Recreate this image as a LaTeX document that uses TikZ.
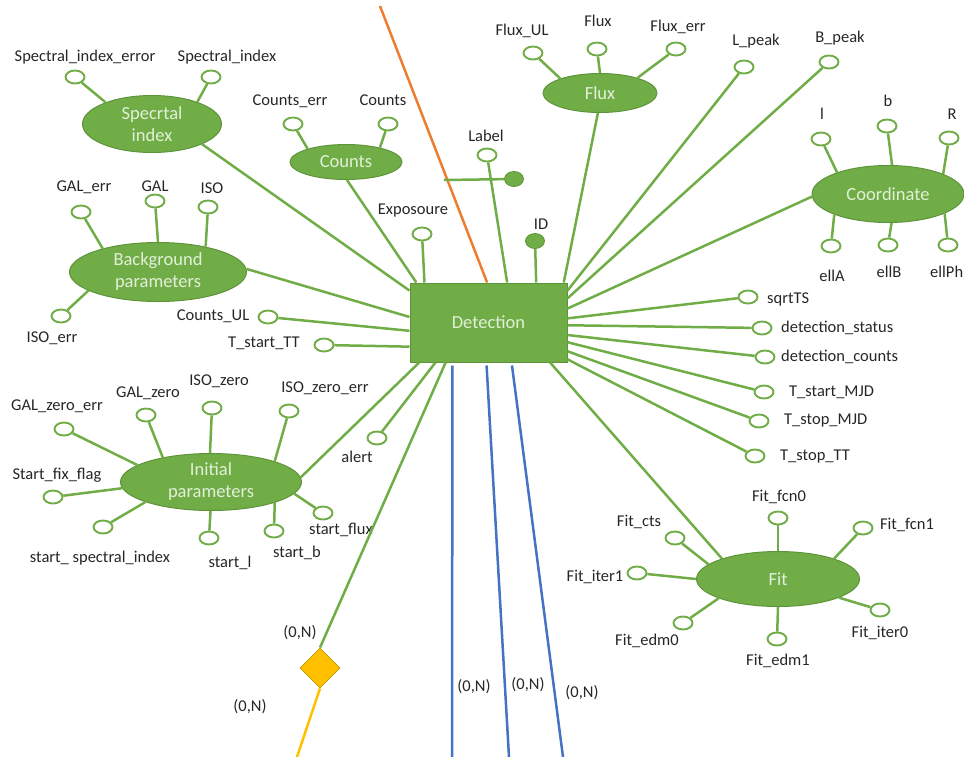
\documentclass[tikz,border=0pt]{standalone}
\usepackage{fontspec}
\setmainfont{Carlito}
\usetikzlibrary{shapes.geometric}
\definecolor{grn}{HTML}{70AD47}
\definecolor{grnd}{HTML}{5E9439}
\definecolor{txtg}{HTML}{E2F0D9}
\definecolor{orng}{HTML}{ED7D31}
\definecolor{blu}{HTML}{4472C4}
\definecolor{gold}{HTML}{FFC000}
\definecolor{goldd}{HTML}{C89600}
\newcommand\lblfont{\fontsize{16.5}{19}\selectfont}
\newcommand\entfont{\fontsize{18.5}{22}\selectfont}
\newcommand\attnode[5][]{\node[attr] (a-#2) at (#3) {};\node[lab,#1] (t-#2) at (#5) {#4};}
\tikzset{
  attr/.style={ellipse, draw=grn, line width=1.9pt, fill=white, minimum width=19pt, minimum height=13pt, inner sep=0pt},
  fdot/.style={ellipse, draw=grnd, line width=0.8pt, fill=grn, minimum width=19pt, minimum height=15pt, inner sep=0pt},
  ent/.style={ellipse, fill=grn, draw=grnd, line width=1pt, text=txtg, font=\entfont, align=center, inner sep=0pt},
  lab/.style={font=\lblfont, inner sep=0pt, text=black!85},
  conn/.style={draw=grn, line width=2.5pt},
}
\begin{document}
\begin{tikzpicture}[x=1pt,y=-1pt]
\useasboundingbox (0,0) rectangle (964,756);
% entities
\node[rectangle, fill=grn, draw=grnd, line width=1pt, text=txtg, font=\entfont, minimum width=157pt, minimum height=79pt, inner sep=0pt] (det) at (488.5,322.5) {Detection};
\node[ent, minimum width=139pt, minimum height=57pt] (spi) at (152,124) {Specrtal\\index};
\node[ent, minimum width=112pt, minimum height=35pt] (cnt) at (346,162) {Counts};
\node[ent, minimum width=114pt, minimum height=39pt] (flx) at (600,93) {Flux};
\node[ent, minimum width=152pt, minimum height=57pt] (crd) at (888,194) {Coordinate};
\node[ent, minimum width=177pt, minimum height=59pt] (bgp) at (158,272) {Background\\parameters};
\node[ent, minimum width=181pt, minimum height=57pt] (inp) at (211,482) {Initial\\parameters};
\node[ent, minimum width=163pt, minimum height=55pt] (fit) at (778,579) {Fit};
\node[diamond, fill=gold, draw=goldd, line width=0.8pt, minimum width=40pt, minimum height=40pt, inner sep=0pt] (dia) at (320,668) {};
% attributes
\attnode{sie}{75,77}{Spectral\_index\_error}{85,57}
\attnode{si}{211,77}{Spectral\_index}{227,57}
\attnode{ce}{293,124}{Counts\_err}{290,101}
\attnode{cn}{388,124}{Counts}{383,100}
\attnode{lb}{487,155}{Label}{486,136}
\attnode{ex}{422,234}{Exposoure}{413,211}
\node[fdot] (a-id) at (535,241) {};
\node[lab] (t-id) at (541,224) {ID};
\node[fdot] (ldot) at (514,179) {};
\attnode{ful}{533,53}{Flux\_UL}{522,31}
\attnode{fl}{597,49}{Flux}{598,21}
\attnode{fe}{676,49}{Flux\_err}{678,27}
\attnode{lp}{744,67}{L\_peak}{756,41}
\attnode{bp}{829,62}{B\_peak}{840,38}
\attnode{cl}{821,139}{l}{822,114}
\attnode{cb}{887,126}{b}{888,101}
\attnode{cr}{949,138}{R}{952,114}
\attnode{ea}{831,246}{ellA}{832,276}
\attnode{eb}{888,245}{ellB}{889,272}
\attnode[anchor=west]{ep}{948,245}{ellPh}{930,272}
\attnode[anchor=west]{sq}{748,297}{sqrtTS}{767,299}
\attnode[anchor=west]{ds}{762,328}{detection\_status}{781,328}
\attnode[anchor=west]{dc}{765,357}{detection\_counts}{781,357}
\attnode[anchor=west]{tsm}{764,392}{T\_start\_MJD}{789,392}
\attnode[anchor=west]{tpm}{759,421}{T\_stop\_MJD}{784,421}
\attnode[anchor=west]{tpt}{755,456}{T\_stop\_TT}{780,457}
\attnode{cul}{268,317}{Counts\_UL}{213,316}
\attnode{tst}{324,345}{T\_start\_TT}{264,343}
\attnode{ise}{61,316}{ISO\_err}{52,338}
\attnode{ge}{81,212}{GAL\_err}{84,187}
\attnode{g}{155,201}{GAL}{155,186}
\attnode{iso}{208,207}{ISO}{212,188}
\attnode{gze}{64,429}{GAL\_zero\_err}{57,406}
\attnode{gz}{146,415}{GAL\_zero}{148,393}
\attnode{iz}{212,408}{ISO\_zero}{219,381}
\attnode{ize}{289,411}{ISO\_zero\_err}{325,388}
\attnode{sff}{53,497}{Start\_fix\_flag}{57,475}
\attnode{ssi}{103,527}{start\_ spectral\_index}{100,558}
\attnode{sl}{209,538}{start\_l}{230,563}
\attnode{sb}{274,531}{start\_b}{297,553}
\attnode{sf}{323,513}{start\_flux}{341,530}
\attnode{al}{377,438}{alert}{357,457}
\attnode{ff0}{778,518}{Fit\_fcn0}{779,497}
\attnode{ff1}{863,528}{Fit\_fcn1}{907,525}
\attnode{fc}{675,538}{Fit\_cts}{639,522}
\attnode{fi1}{637,573}{Fit\_iter1}{595,577}
\attnode{fe0}{683,623}{Fit\_edm0}{647,641}
\attnode{fe1}{777,639}{Fit\_edm1}{778,661}
\attnode{fi0}{880,610}{Fit\_iter0}{880,633}
% cardinality labels
\node[lab] (n1) at (300,633) {(0,N)};
\node[lab] (n2) at (250,707) {(0,N)};
\node[lab] (n3) at (474,687) {(0,N)};
\node[lab] (n4) at (528,685) {(0,N)};
\node[lab] (n5) at (582,693) {(0,N)};
% free ends
\coordinate (oTop) at (380,6);
\coordinate (hl) at (444,180);
\coordinate (yEnd) at (297,757);
\coordinate (b1) at (452,757);
\coordinate (b2) at (509,757);
\coordinate (b3) at (563,757);
% connectors
\draw[orng, line width=2.5pt] (oTop) -- (det.92.2);
\draw[conn] (hl) -- (ldot);
\draw[conn] (a-sie) -- (spi.155);
\draw[conn] (a-si) -- (spi.26);
\draw[conn] (a-ce) -- (cnt.161);
\draw[conn] (a-cn) -- (cnt.23);
\draw[conn] (a-lb) -- (det.65);
\draw[conn] (a-ex) -- (det.148);
\draw[conn] (a-id) -- (det.40.3);
\draw[conn] (a-ful) -- (flx.160);
\draw[conn] (a-fl) -- (flx.90);
\draw[conn] (a-fe) -- (flx.22);
\draw[conn] (a-lp) -- (det.22.5);
\draw[conn] (a-bp) -- (det.17.3);
\draw[conn] (a-cl) -- (crd.157);
\draw[conn] (a-cb) -- (crd.82);
\draw[conn] (a-cr) -- (crd.20);
\draw[conn] (a-ea) -- (crd.-159);
\draw[conn] (a-eb) -- (crd.-83);
\draw[conn] (a-ep) -- (crd.-19);
\draw[conn] (a-sq) -- (det.3.3);
\draw[conn] (a-ds) -- (det.-2.5);
\draw[conn] (a-dc) -- (det.-9);
\draw[conn] (a-tsm) -- (det.-14.6);
\draw[conn] (a-tpm) -- (det.-20.6);
\draw[conn] (a-tpt) -- (det.-25.5);
\draw[conn] (a-cul) -- (det.186.2);
\draw[conn] (a-tst) -- (det.197.3);
\draw[conn] (a-ise) -- (bgp.-165);
\draw[conn] (a-ge) -- (bgp.157);
\draw[conn] (a-g) -- (bgp.90);
\draw[conn] (a-iso) -- (bgp.28);
\draw[conn] (a-gze) -- (inp.167);
\draw[conn] (a-gz) -- (inp.153);
\draw[conn] (a-iz) -- (inp.92);
\draw[conn] (a-ize) -- (inp.18);
\draw[conn] (a-sff) -- (inp.184);
\draw[conn] (a-ssi) -- (inp.-163.5);
\draw[conn] (a-sl) -- (inp.-91);
\draw[conn] (a-sb) -- (inp.-18);
\draw[conn] (a-sf) -- (inp.-8);
\draw[conn] (a-al) -- (det.-143.6);
\draw[conn] (a-ff0) -- (fit.90);
\draw[conn] (a-ff1) -- (fit.20);
\draw[conn] (a-fc) -- (fit.168);
\draw[conn] (a-fi1) -- (fit.180);
\draw[conn] (a-fe0) -- (fit.-162);
\draw[conn] (a-fe1) -- (fit.-90);
\draw[conn] (a-fi0) -- (fit.-17.6);
\draw[conn] (spi.-22) -- (det.158.8);
\draw[conn] (cnt.-87) -- (det.151);
\draw[conn] (flx.-96) -- (det.28.6);
\draw[conn] (crd.182) -- (det.10.5);
\draw[conn] (bgp.2) -- (det.176.7);
\draw[conn] (inp.3) -- (det.-150);
\draw[conn] (det.-33.6) -- (fit.160);
\draw[conn] (det.-137.8) -- (dia.north);
\draw[gold, line width=2.5pt] (dia.south) -- (yEnd);
\draw[blu, line width=2.5pt, shorten <=3pt] (det.-132) -- (b1);
\draw[blu, line width=2.5pt, shorten <=3pt] (det.-93.6) -- (b2);
\draw[blu, line width=2.5pt, shorten <=3pt] (det.-60.3) -- (b3);
\end{tikzpicture}
\end{document}
